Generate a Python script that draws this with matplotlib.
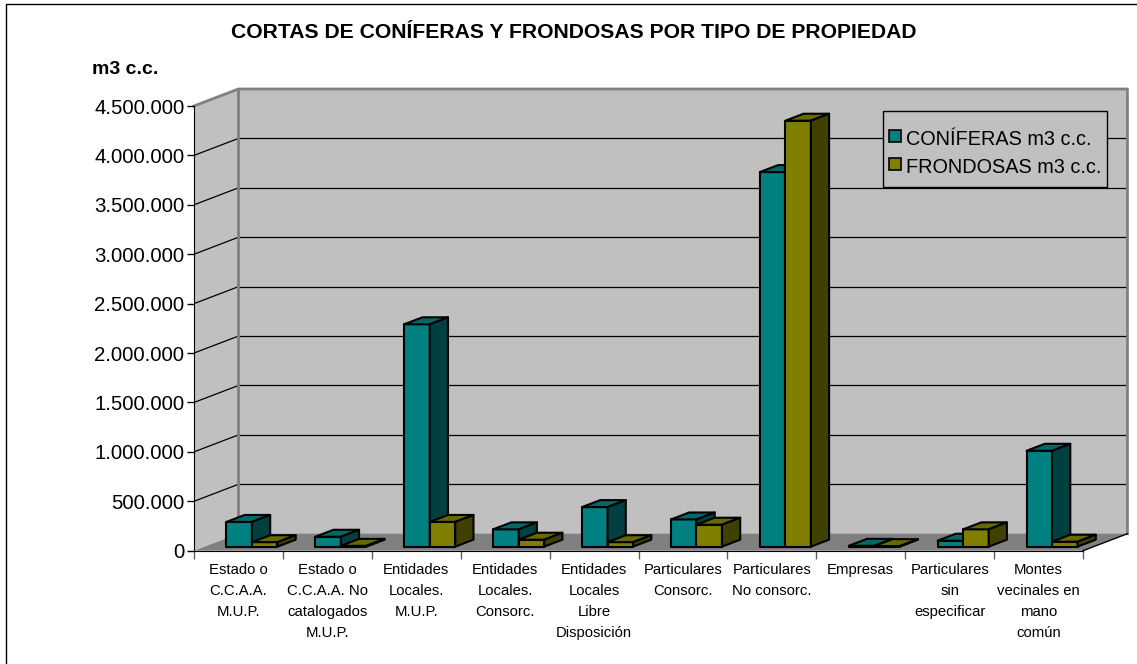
# cortas de coniferas y frondosas por tipo de propiedad, 3D-look bar chart
import numpy as np
import matplotlib.pyplot as plt
from matplotlib.patches import Polygon, Rectangle
from matplotlib.lines import Line2D

categorias = ["Estado o\nC.C.A.A.\nM.U.P.",
              "Estado o\nC.C.A.A. No\ncatalogados\nM.U.P.",
              "Entidades\nLocales.\nM.U.P.",
              "Entidades\nLocales.\nConsorc.",
              "Entidades\nLocales\nLibre\nDisposición",
              "Particulares\nConsorc.",
              "Particulares\nNo consorc.",
              "Empresas",
              "Particulares\nsin\nespecificar",
              "Montes\nvecinales en\nmano\ncomún"]
coniferas = [250000, 100000, 2250000, 175000, 400000, 275000, 3790000, 8000, 60000, 970000]
frondosas = [45000, 8000, 250000, 70000, 45000, 222000, 4310000, 5000, 175000, 50000]
series = ["CONÍFERAS m3 c.c.", "FRONDOSAS m3 c.c."]
yticks = np.arange(0, 4500001, 500000)

plt.rcParams['font.family'] = ['Liberation Sans', 'DejaVu Sans']

W, H = 1137, 664
fig = plt.figure(figsize=(W / 100, H / 100), dpi=100)

ymax = 4500000
n = len(categorias)
DX = 0.5        # depth of the box, category units
DY = 172000     # depth of the box, value units
Z0, DZ = 0.24, 0.41   # bars sit from 0.24 to 0.65 of the depth
BW = 0.287
x0, y0 = 194, 550.7
px_cat = 88.9
px_val = 444.7 / ymax

ax = fig.add_axes([x0 / W, (H - y0) / H, (n + DX) * px_cat / W, (ymax + DY) * px_val / H])
ax.set_xlim(0, n + DX)
ax.set_ylim(0, ymax + DY)
ax.patch.set_visible(False)
ax.spines['top'].set_visible(False)
ax.spines['right'].set_visible(False)
ax.spines['left'].set_bounds(0, ymax)
ax.spines['bottom'].set_bounds(0, n)

# walls and floor
ax.add_patch(Polygon([(0, 0), (DX, DY), (DX, ymax + DY), (0, ymax)], fc='#C0C0C0', ec='none', zorder=0))
ax.add_patch(Rectangle((DX, DY), n, ymax, fc='#C0C0C0', ec='none', zorder=0))
ax.add_patch(Polygon([(0, 0), (DX, DY), (n + DX, DY), (n, 0)], fc='#808080', ec='none', zorder=0))
for v in yticks[1:-1]:
    ax.plot([DX, n + DX], [v + DY, v + DY], color='black', lw=0.9, zorder=1)
    ax.plot([0, DX], [v, v + DY], color='black', lw=0.9, zorder=1)
ax.plot([0, DX, DX + n, DX + n], [ymax, ymax + DY, ymax + DY, DY], color='#808080', lw=2, zorder=1, clip_on=False)
ax.plot([DX, DX], [DY, ymax + DY], color='#808080', lw=2, zorder=1)
ax.plot([n, n + DX], [0, DY], color='black', lw=1, zorder=1, clip_on=False)


def caja(xl, v, c_front, c_top, c_side):
    zb = Z0 * DY
    ddx, ddy = DZ * DX, DZ * DY
    front = [(xl, zb), (xl + BW, zb), (xl + BW, zb + v), (xl, zb + v)]
    top = [(xl, zb + v), (xl + BW, zb + v), (xl + BW + ddx, zb + v + ddy), (xl + ddx, zb + v + ddy)]
    side = [(xl + BW, zb), (xl + BW + ddx, zb + ddy), (xl + BW + ddx, zb + v + ddy), (xl + BW, zb + v)]
    for pts, c in [(front, c_front), (top, c_top), (side, c_side)]:
        ax.add_patch(Polygon(pts, closed=True, fc=c, ec='black', lw=1.5, joinstyle='round', zorder=3))


for i in range(n):
    xl = i + 0.245 + Z0 * DX
    caja(xl, coniferas[i], '#008080', '#006868', '#004040')
    caja(xl + BW, frondosas[i], '#808000', '#686800', '#404000')

labels = [f"{v:,.0f}".replace(',', '.') for v in yticks]
ax.set_yticks(yticks, labels)
ax.tick_params(axis='y', direction='out', length=5, width=1, labelsize=14.7, pad=2)
ax.set_xticks(np.arange(n + 1))
ax.set_xticks(np.arange(n) + 0.5, minor=True)
ax.set_xticklabels([])
ax.set_xticklabels(categorias, minor=True)
ax.tick_params(axis='x', which='major', length=6, width=1, color='#606060')
ax.tick_params(axis='x', which='minor', length=0, pad=9, labelsize=10.7)
for t in ax.get_xticklabels(minor=True):
    t.set_linespacing(1.62)

fig.text(574 / W, 1 - 33 / H, "CORTAS DE CONÍFERAS Y FRONDOSAS POR TIPO DE PROPIEDAD",
         ha='center', va='center', fontweight='bold', fontsize=15.2)
fig.text(92 / W, 1 - 70 / H, "m3 c.c.", ha='left', va='center', fontweight='bold', fontsize=14)

# legend box (wider padding above/below than at the sides)
fig.add_artist(Rectangle((883 / W, 1 - 187 / H), 224 / W, 76 / H, transform=fig.transFigure,
                         fc='#C0C0C0', ec='black', lw=1))
handles = [Line2D([], [], ls='none', marker='s', markersize=8, mfc='#008080', mec='black', mew=1.2),
           Line2D([], [], ls='none', marker='s', markersize=8, mfc='#808000', mec='black', mew=1.2)]
leg = fig.legend(handles, series, loc='center left', bbox_to_anchor=(889 / W, 1 - 152.5 / H),
                 fontsize=14.3, frameon=False, borderpad=0, labelspacing=0.2, handlelength=0.6,
                 handleheight=1.45, handletextpad=0.25, borderaxespad=0)

fig.add_artist(Rectangle((6 / W, -0.1), 1.2, 1 - 4 / H + 0.1, transform=fig.transFigure,
                         fill=False, ec='black', lw=1))

fig.savefig('out.png', dpi=100)
